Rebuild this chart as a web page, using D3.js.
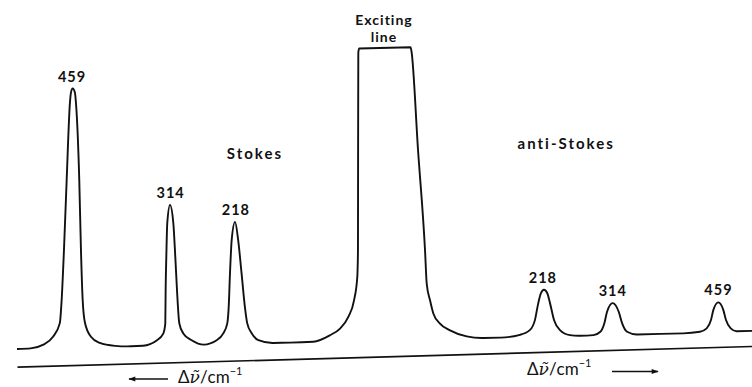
<!DOCTYPE html>
<html>
<head>
<meta charset="utf-8">
<title>Raman spectrum</title>
<script src="https://cdn.jsdelivr.net/npm/d3@7"></script>
<style>
  body { margin: 0; background: #fff; }
  svg { display: block; background: #fff; }
  text { font-family: Lato, "Open Sans", sans-serif; fill: #111; }
</style>
</head>
<body>
<script>
// trace: [Raman shift / cm-1, relative intensity]
// Stokes side is kept negative (left of the exciting line), anti-Stokes positive
var stokesTrace = [
  [-540, 0], [-520, 0.1], [-502, 1.2], [-487, 3.9], [-477, 8.5], [-474.3, 16.4], [-470.9, 33.5],
  [-466.9, 57.5], [-462.1, 83.8], [-460.6, 87.2], [-458.1, 88.6], [-454.8, 87.2], [-453.3, 83.8],
  [-448.4, 57.4], [-445.9, 33.4], [-443.4, 16.3], [-440, 8.4], [-431.2, 3.6], [-418, 1.4],
  [-396, 0.3], [-372, 0], [-354.6, 0.1],
  [-334.5, 1.8], [-324.8, 4.1], [-321.8, 7.5], [-321.3, 18.9], [-320.3, 30.3], [-318.9, 41.8],
  [-314.9, 48.0], [-310, 41.8], [-307.1, 30.3], [-304.6, 18.9], [-301.2, 7.5], [-295.3, 4.0],
  [-283, 1.6], [-265, 0],
  [-246.2, 1.4], [-236.5, 3.7], [-230.6, 7.1], [-228.5, 12.7], [-226.6, 24.2], [-224.1, 35.6],
  [-219.2, 41.7], [-214.6, 35.5], [-209.6, 24.1], [-204.7, 12.6], [-201.3, 7.0], [-194.7, 3.5],
  [-184.9, 1.1], [-162.9, 0]
];
var excitingTrace = [
  [-138, 0], [-104, 0.1], [-79.5, 2.2], [-64.7, 4.4], [-52.5, 8.3], [-44.1, 13.9], [-39.3, 21.9],
  [-38.3, 31], [-38.1, 65], [-37.8, 98.6], [-36.6, 100], [36.4, 100], [37.6, 98.8], [46.7, 64.8],
  [56.3, 30.5], [58.6, 19.1], [63.1, 13.4], [67.7, 8.8], [76.8, 5.3], [90.6, 2.9], [113.5, 0.7],
  [136.3, 0]
];
var antiStokesTrace = [
  [160, 0], [186.6, 0.8], [200.4, 2.4], [207.2, 5.8], [211.7, 11.5], [215.4, 14.9], [219.5, 16.0],
  [224.1, 14.8], [227.8, 11.4], [233.3, 5.6], [241.5, 2.1], [255.2, 0.3], [268.9, 0],
  [287.4, 0.1], [296.9, 1.2], [302.4, 4.1], [306.1, 8.0], [313.8, 10.9], [322.1, 7.9], [326.7, 4.0],
  [333.6, 1.0], [347.3, 0], [380, 0], [410.7, 0],
  [433.6, 0.4], [442.8, 1.5], [448.7, 4.3], [451.9, 7.7], [458.7, 10.3], [465.6, 7.7], [469.3, 4.2],
  [475.8, 1.3], [484, 0.3], [505, 0.3]
];

var peakShifts = [-459, -314, -218, 218, 314, 459];
var peakLabels = ["459", "314", "218", "218", "314", "459"];
var sideLabels = ["Stokes", "anti-Stokes"];
var sideShifts = [-190, 250];
var excitingLabel = ["Exciting", "line"];

var width = 752, height = 387;

// piecewise: the two sides of the chart are not drawn at quite the same scale
var x = d3.scaleLinear().domain([-540, 0, 505]).range([17, 384, 752]);
var y = d3.scaleLinear().domain([0, 100]).range([0, -292.5]);

// baseline and axis both run slightly uphill to the right
var base0 = 349.4, baseTilt = -0.0235;
var axis0 = 367.2, axisTilt = -0.0282;
function baseY(px){ return base0 + baseTilt * px; }
function axisY(px){ return axis0 + axisTilt * px; }
function deg(t){ return Math.atan(t) * 180 / Math.PI; }

var svg = d3.select("body").append("svg")
  .attr("width", width)
  .attr("height", height);

var defs = svg.append("defs");
defs.append("marker")
  .attr("id", "head")
  .attr("viewBox", "0 0 10 10")
  .attr("refX", 9).attr("refY", 5)
  .attr("markerWidth", 9).attr("markerHeight", 7)
  .attr("markerUnits", "userSpaceOnUse")
  .attr("orient", "auto-start-reverse")
  .append("path")
  .attr("d", "M0,1.5L10,5L0,8.5z")
  .attr("fill", "#111");

// spectrum
var trace = stokesTrace.concat(excitingTrace, antiStokesTrace);

var line = d3.line()
  .x(function(d){ return x(d[0]); })
  .y(function(d){ return y(d[1]); })
  .curve(d3.curveMonotoneX);

svg.append("g")
  .attr("transform", "translate(0," + base0 + ") skewY(" + deg(baseTilt) + ")")
  .append("path")
  .datum(trace)
  .attr("d", line)
  .attr("fill", "none")
  .attr("stroke", "#111")
  .attr("stroke-width", 1.9)
  .attr("stroke-linejoin", "round");

// axis: just the line, no ticks
var axis = svg.append("g")
  .attr("transform", "translate(0," + axis0 + ") skewY(" + deg(axisTilt) + ")")
  .call(d3.axisBottom(x).tickValues([]).tickSizeOuter(0));
axis.select(".domain").attr("stroke", "#111").attr("stroke-width", 1.7);

// peak labels
function peakTop(s){
  var near = trace.filter(function(d){ return Math.abs(d[0] - s) < 8; });
  return d3.max(near, function(d){ return d[1]; });
}
svg.append("g").selectAll("text")
  .data(peakShifts)
  .enter()
  .append("text")
  .attr("x", function(d){ return x(d); })
  .attr("y", function(d){ return baseY(x(d)) + y(peakTop(d)) - 7; })
  .attr("text-anchor", "middle")
  .attr("font-size", 14.5)
  .attr("font-weight", 700)
  .attr("letter-spacing", 1)
  .text(function(d, i){ return peakLabels[i]; });

svg.append("g").selectAll("text")
  .data(sideLabels)
  .enter()
  .append("text")
  .attr("x", function(d, i){ return x(sideShifts[i]); })
  .attr("y", function(d, i){ return i == 0 ? 159 : 149; })
  .attr("text-anchor", "middle")
  .attr("font-size", 15)
  .attr("font-weight", 700)
  .attr("letter-spacing", 2)
  .text(function(d){ return d; });

svg.append("g").selectAll("text")
  .data(excitingLabel)
  .enter()
  .append("text")
  .attr("x", x(0))
  .attr("y", function(d, i){ return 25 + i * 17; })
  .attr("text-anchor", "middle")
  .attr("font-size", 14)
  .attr("font-weight", 700)
  .attr("letter-spacing", 1)
  .text(function(d){ return d; });

// axis captions with direction arrows
function caption(px, yb, arrowFrom, arrowTo){
  var t = svg.append("text")
    .attr("x", px)
    .attr("y", yb)
    .attr("font-size", 17);
  t.append("tspan").text("\u0394");
  t.append("tspan").attr("font-family", "DejaVu Serif").attr("font-style", "italic").text("\u03bd\u0303");
  t.append("tspan").text("/cm");
  t.append("tspan").attr("font-size", 11).attr("dy", -8).text("\u22121");
  svg.append("line")
    .attr("x1", arrowFrom).attr("x2", arrowTo)
    .attr("y1", yb - 3.5).attr("y2", yb - 3.5)
    .attr("stroke", "#111")
    .attr("stroke-width", 1.3)
    .attr("marker-end", "url(#head)");
}
caption(178, Math.min(axisY(208) + 23.5, 382.5), 168, 129);
caption(527, axisY(557) + 23.5, 612, 658);
</script>
</body>
</html>
